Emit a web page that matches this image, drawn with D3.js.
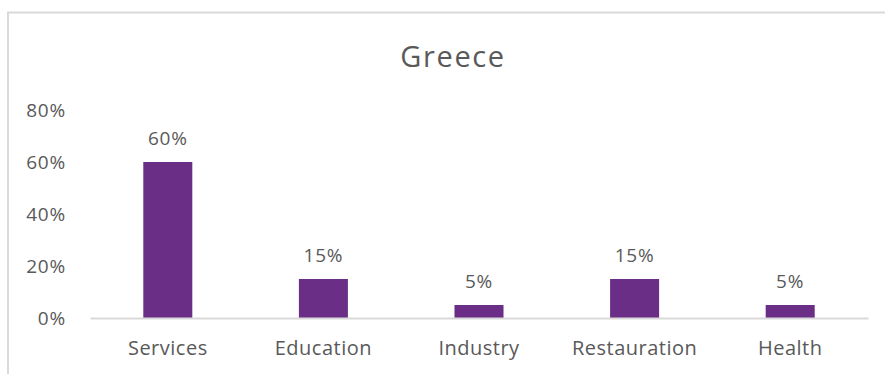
<!DOCTYPE html>
<html>
<head>
<meta charset="utf-8">
<script src="https://cdn.jsdelivr.net/npm/d3@7"></script>
<style>
  html, body { margin: 0; padding: 0; background: #fff; }
  svg { display: block; }
  text { font-family: "Open Sans", Lato, sans-serif; fill: #595959; }
</style>
</head>
<body>
<svg id="chart" width="885" height="374"></svg>
<script>
const title = "Greece";
const categories = ["Services", "Education", "Industry", "Restauration", "Health"];
const shares = [0.60, 0.15, 0.05, 0.15, 0.05];
const yTicks = [0, 0.2, 0.4, 0.6, 0.8];

const W = 885, H = 374;
const margin = { left: 90, right: 17, top: 110, bottom: 56 };
const svg = d3.select("#chart");
const labelFont = "\"Open Sans\", sans-serif";

// chart frame (top and left edges visible)
svg.append("path")
  .attr("d", `M8,${H} L8,12.5 L${W},12.5`)
  .attr("fill", "none")
  .attr("stroke", "#d9d9d9")
  .attr("stroke-width", 2);

svg.append("text")
  .attr("x", 453).attr("y", 67)
  .attr("text-anchor", "middle")
  .style("font-size", "29px")
  .style("letter-spacing", "1.6px")
  .text(title);

const x = d3.scaleBand()
  .domain(categories)
  .range([margin.left, W - margin.right])
  .paddingInner(0.685)
  .paddingOuter(0.3425);

const y = d3.scaleLinear()
  .domain([0, 0.8])
  .range([H - margin.bottom, margin.top]);

const fmt = d3.format(".0%");

// y axis labels (no line, no ticks)
const yAxis = svg.append("g")
  .attr("transform", `translate(${margin.left},0)`)
  .call(d3.axisLeft(y).tickValues(yTicks).tickFormat(fmt).tickSize(0).tickPadding(24));
yAxis.select(".domain").remove();
yAxis.selectAll("text")
  .style("font-size", "19px")
  .style("letter-spacing", "0.8px")
  .style("font-family", labelFont)
  .attr("fill", "#595959");

// bars
svg.append("g").selectAll("rect")
  .data(categories)
  .join("rect")
  .attr("x", d => x(d))
  .attr("width", x.bandwidth())
  .attr("y", (d, i) => y(shares[i]))
  .attr("height", (d, i) => y(0) - y(shares[i]))
  .attr("fill", "#6b2e86");

// value labels
svg.append("g").selectAll("text")
  .data(categories)
  .join("text")
  .attr("x", d => x(d) + x.bandwidth() / 2)
  .attr("y", (d, i) => y(shares[i]) - 17)
  .attr("text-anchor", "middle")
  .style("font-size", "19px")
  .style("letter-spacing", "0.8px")
  .text((d, i) => fmt(shares[i]));

// x axis
const xAxis = svg.append("g")
  .attr("transform", `translate(0,${y(0)})`)
  .call(d3.axisBottom(x).tickSize(0).tickPadding(23));
xAxis.select(".domain").attr("stroke", "#d9d9d9").attr("stroke-width", 2);
xAxis.selectAll("text")
  .style("font-size", "20px")
  .style("letter-spacing", "0.5px")
  .style("font-family", labelFont)
  .attr("fill", "#595959");
</script>
</body>
</html>
